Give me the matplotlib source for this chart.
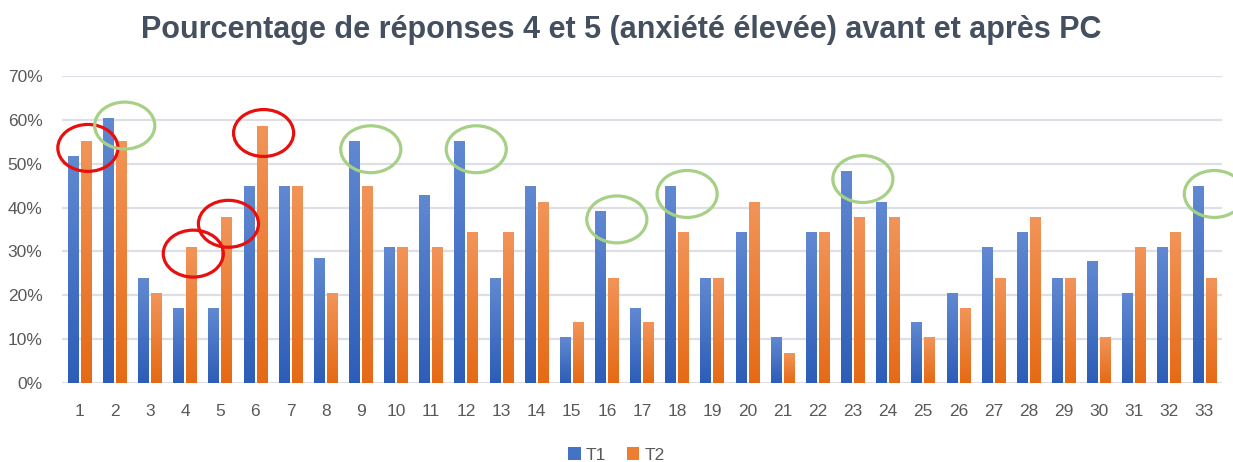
#!/usr/bin/env python3
import numpy as np
import matplotlib
matplotlib.use("Agg")
import matplotlib.pyplot as plt
from matplotlib.colors import LinearSegmentedColormap
from matplotlib.patches import Ellipse, Patch


TITLE = "Pourcentage de réponses 4 et 5 (anxiété élevée) avant et après PC"
QUESTIONS = list(range(1, 34))
T1 = [51.7, 60.4, 23.8, 17.1, 17.1, 44.8, 44.8, 28.3, 55.0, 30.9,
      42.7, 55.0, 23.8, 44.8, 10.3, 39.0, 17.1, 44.8, 23.8, 34.3,
      10.3, 34.3, 48.2, 41.1, 13.7, 20.4, 30.9, 34.3, 23.8, 27.6,
      20.4, 30.9, 44.8]
T2 = [55.0, 55.0, 20.4, 30.9, 37.7, 58.4, 44.8, 20.4, 44.8, 30.9,
      30.9, 34.3, 34.3, 41.1, 13.7, 23.8, 13.7, 34.3, 23.8, 41.1,
      6.8, 34.3, 37.7, 37.7, 10.3, 17.1, 23.8, 37.7, 23.8, 10.3,
      30.9, 34.3, 23.8]
SERIES = ["T1", "T2"]
# hand-drawn highlights: red = rise after PC (T2), green = drop after PC (T1)
RED_GROUPS = [1, 4, 5, 6]
GREEN_GROUPS = [2, 9, 12, 16, 18, 23, 33]

BLUE = "#4472C4"
ORANGE = "#ED7D31"
TEXT = "#595959"
GRID = "#DCE0E6"
WIDTH = 0.30
OFFSET = 0.185


def gradient_bars(ax, xs, heights, top, bottom):
    cmap = LinearSegmentedColormap.from_list("g", [bottom, top])
    grad = np.linspace(0, 1, 128).reshape(-1, 1)
    for x, h in zip(xs, heights):
        ax.imshow(grad, cmap=cmap, origin="lower", aspect="auto", zorder=2,
                  extent=(x - WIDTH / 2, x + WIDTH / 2, 0, h), interpolation="bilinear")


def main():
    plt.rcParams["font.family"] = ["Liberation Sans", "DejaVu Sans"]
    fig = plt.figure(figsize=(12.33, 4.62), dpi=100)
    ax = fig.add_axes([0.0503, 0.171, 0.9407, 0.6645])

    x = np.array(QUESTIONS, dtype=float)
    t1 = np.array(T1) / 100
    t2 = np.array(T2) / 100
    gradient_bars(ax, x - OFFSET, t1, "#6189D2", "#2D5DB7")
    gradient_bars(ax, x + OFFSET, t2, "#F29459", "#E56A15")

    for g in RED_GROUPS:
        e = Ellipse((g + OFFSET + 0.05, t2[g - 1] - 0.014), 1.71, 0.107,
                    fill=False, edgecolor="#E8100F", linewidth=2.3, zorder=5, clip_on=False)
        ax.add_patch(e)
    for g in GREEN_GROUPS:
        e = Ellipse((g - OFFSET + 0.47, t1[g - 1] - 0.017), 1.71, 0.107,
                    fill=False, edgecolor="#A6D086", linewidth=2.3, zorder=5, clip_on=False)
        ax.add_patch(e)

    ax.set_xlim(0.5, 33.5)
    ax.set_ylim(0, 0.7)
    ax.set_yticks(np.arange(0, 0.71, 0.1))
    ax.set_yticklabels([f"{int(round(v * 100))}%" for v in np.arange(0, 0.71, 0.1)])
    ax.set_xticks(x)
    ax.set_xticklabels([str(q) for q in QUESTIONS])
    ax.grid(axis="y", color=GRID, linewidth=1.6, zorder=0)
    ax.set_axisbelow(True)
    for side in ["top", "right", "left", "bottom"]:
        ax.spines[side].set_visible(False)
    ax.tick_params(axis="both", length=0, colors=TEXT, labelsize=12.5)
    ax.tick_params(axis="y", pad=14)
    ax.tick_params(axis="x", pad=15)

    fig.text(0.504, 0.935, TITLE, ha="center", va="center", fontsize=22,
             fontweight="bold", color="#44505F")

    handles = [Patch(facecolor=BLUE), Patch(facecolor=ORANGE)]
    fig.legend(handles, SERIES, loc="center", bbox_to_anchor=(0.5, 0.015), ncol=2,
               frameon=False, fontsize=12.5, labelcolor=TEXT, handlelength=0.7,
               handleheight=0.7, handletextpad=0.3, columnspacing=1.2)

    fig.savefig("out.png", dpi=100)
    plt.close(fig)


if __name__ == "__main__":
    main()
